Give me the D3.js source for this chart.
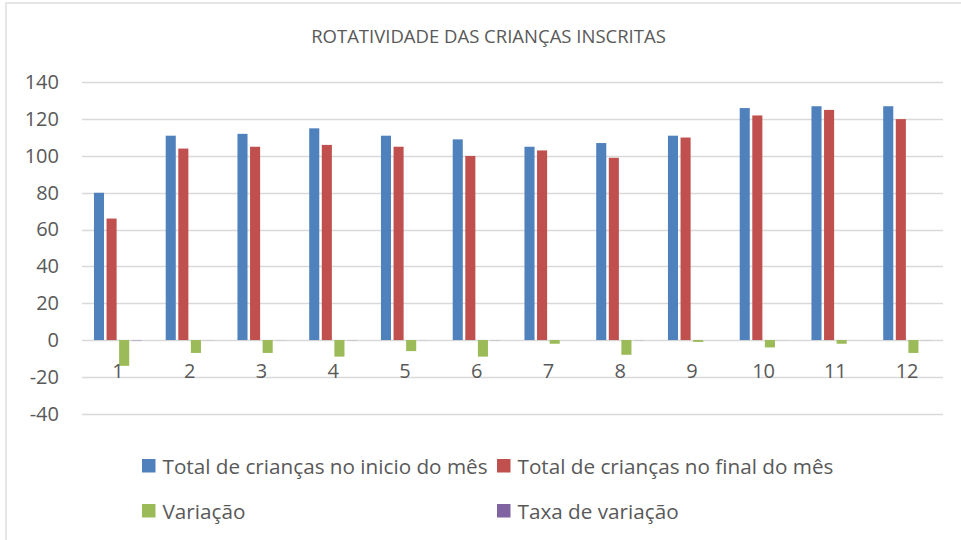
<!DOCTYPE html>
<html lang="pt">
<head>
    <meta charset="UTF-8">
    <title>Rotatividade das crianças inscritas</title>
    <script src="https://d3js.org/d3.v7.min.js"></script>
    <style>
        body { margin: 0; background: #fff; font-family: "Open Sans", "Noto Sans", sans-serif; }
        svg { display: block; }
        .grid line { stroke: #d9d9d9; stroke-width: 1.3; }
        .tick-label { fill: #595959; }
    </style>
</head>
<body>
    <svg id="chart"></svg>

    <script>
        const width = 961, height = 540;

        // data
        const months = ["1", "2", "3", "4", "5", "6", "7", "8", "9", "10", "11", "12"];
        const seriesNames = [
            "Total de crianças no inicio do mês",
            "Total de crianças no final do mês",
            "Variação",
            "Taxa de variação"
        ];
        const inicio = [80, 111, 112, 115, 111, 109, 105, 107, 111, 126, 127, 127];
        const final = [66, 104, 105, 106, 105, 100, 103, 99, 110, 122, 125, 120];
        const variacao = [-14, -7, -7, -9, -6, -9, -2, -8, -1, -4, -2, -7];
        const taxa = [-0.18, -0.06, -0.06, -0.08, -0.05, -0.08, -0.02, -0.07, -0.01, -0.03, -0.02, -0.06];
        const yTicks = [-40, -20, 0, 20, 40, 60, 80, 100, 120, 140];
        const colors = ["#4f81bd", "#c0504d", "#9bbb59", "#8064a2"];

        const allSeries = [inicio, final, variacao, taxa];

        const svg = d3.select("#chart").attr("width", width).attr("height", height);

        // chart border (only top and left edges fall inside the picture)
        svg.append("rect")
            .attr("x", 6).attr("y", 3)
            .attr("width", width + 20).attr("height", height + 20)
            .attr("fill", "none")
            .attr("stroke", "#d9d9d9")
            .attr("stroke-width", 1.3);

        const plot = { left: 82, right: 943, top: 82.3, bottom: 413.7 };

        const x = d3.scaleBand().domain(months).range([plot.left, plot.right]).padding(0);
        const xs = d3.scaleBand().domain(d3.range(seriesNames.length))
            .range([0, x.bandwidth()]).paddingInner(0.2).paddingOuter(0.95);
        const y = d3.scaleLinear().domain([-40, 140]).range([plot.bottom, plot.top]);

        // gridlines
        svg.append("g").attr("class", "grid")
            .selectAll("line").data(yTicks).join("line")
            .attr("x1", plot.left).attr("x2", plot.right)
            .attr("y1", d => Math.round(y(d)) + 0.5)
            .attr("y2", d => Math.round(y(d)) + 0.5);

        // y axis labels (plain hyphen for negatives, as in the original)
        const yAxis = d3.axisLeft(y).tickValues(yTicks).tickSize(0).tickPadding(0)
            .tickFormat(d => String(d));
        const yg = svg.append("g").attr("transform", "translate(59,0)").call(yAxis);
        yg.select(".domain").remove();
        yg.selectAll("text")
            .attr("class", "tick-label")
            .attr("font-family", "'Open Sans', sans-serif")
            .attr("font-size", 20);

        // bars
        const groups = svg.append("g").selectAll("g")
            .data(months).join("g")
            .attr("transform", d => `translate(${x(d)},0)`);

        groups.selectAll("rect")
            .data((m, i) => allSeries.map((s, k) => ({ k, v: s[i] })))
            .join("rect")
            .attr("x", d => xs(d.k))
            .attr("width", xs.bandwidth())
            .attr("y", d => y(Math.max(0, d.v)))
            .attr("height", d => Math.abs(y(d.v) - y(0)))
            .attr("fill", d => colors[d.k]);

        // category labels next to the zero line
        const xAxis = d3.axisBottom(x).tickSize(0).tickPadding(0);
        const xg = svg.append("g").attr("transform", `translate(0,${y(0)})`).call(xAxis);
        xg.select(".domain").remove();
        xg.selectAll("text")
            .attr("class", "tick-label")
            .attr("dy", 0)
            .attr("y", 38)
            .attr("font-family", "'Open Sans', sans-serif")
            .attr("font-size", 20);

        // title
        svg.append("text")
            .attr("x", 488.5).attr("y", 43)
            .attr("text-anchor", "middle")
            .attr("fill", "#595959")
            .attr("font-size", 18.5)
            .text("ROTATIVIDADE DAS CRIANÇAS INSCRITAS");

        // legend
        const legendPos = [[142, 459], [497, 459], [142, 504], [497, 504]];
        const legend = svg.append("g").selectAll("g")
            .data(seriesNames).join("g")
            .attr("transform", (d, i) => `translate(${legendPos[i][0]},${legendPos[i][1]})`);
        legend.append("rect")
            .attr("width", 13.5).attr("height", 13.5)
            .attr("fill", (d, i) => colors[i]);
        legend.append("text")
            .attr("x", 20.5).attr("y", 14.5)
            .attr("fill", "#595959")
            .attr("font-size", 20.7)
            .text(d => d);
    </script>
</body>
</html>
